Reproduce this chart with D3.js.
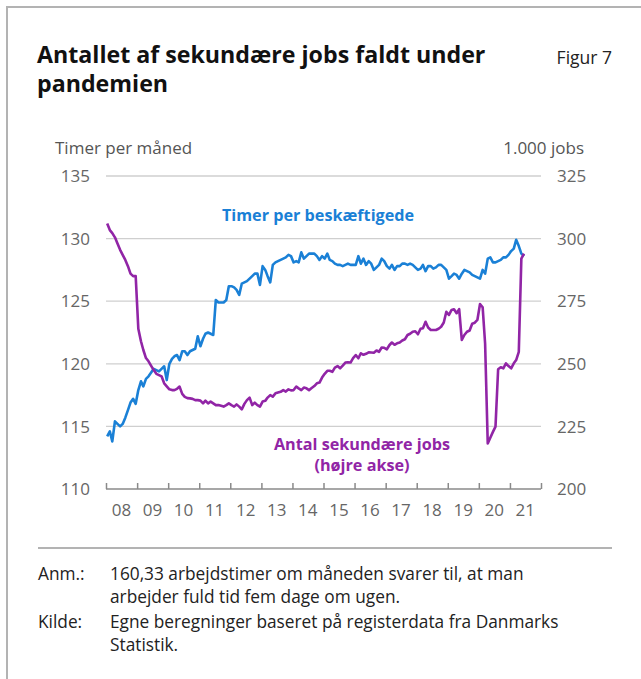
<!DOCTYPE html>
<html><head><meta charset="utf-8">
<script src="https://cdn.jsdelivr.net/npm/d3@7"></script>
<style>body{margin:0;background:#fff} svg{display:block}</style>
</head><body>
<svg id="c" width="641" height="679"></svg>
<script>
// ---- data ----
const startYear = 2008;           // first month: Jan 2008, monthly observations
const hours = [
114.2,114.6,113.8,115.4,115.2,115.0,115.2,115.7,116.3,116.9,
117.2,116.8,117.9,118.6,118.2,118.8,119.0,119.3,119.6,119.5,
119.4,119.6,119.8,118.7,120.0,120.4,120.6,120.7,120.3,121.0,
121.0,120.7,121.0,121.1,121.2,122.2,121.4,122.0,122.4,122.5,
122.4,122.3,125.1,124.9,124.9,124.9,125.1,126.2,126.2,126.1,
125.9,125.5,126.4,126.5,126.6,126.8,127.0,127.2,127.2,126.3,
127.8,127.5,127.0,126.5,127.9,128.1,128.2,128.3,128.4,128.5,
128.7,128.6,128.1,128.2,128.1,128.9,128.4,128.6,128.8,128.8,
128.8,128.6,128.3,128.6,128.4,128.8,128.3,128.2,128.0,127.9,
127.9,127.8,127.9,128.0,127.9,127.9,127.9,128.6,128.0,128.4,
127.9,128.2,128.0,127.5,127.7,127.9,128.4,128.2,127.8,127.6,
127.9,127.5,127.8,127.8,128.0,128.0,127.9,128.0,127.9,127.7,
127.5,127.6,127.9,127.4,127.8,127.8,127.6,127.7,127.9,127.9,
127.7,127.5,126.8,127.0,127.2,127.1,126.8,127.2,127.5,127.4,
127.3,127.1,127.0,126.9,126.8,127.5,127.2,128.4,128.5,128.1,
128.1,128.2,128.3,128.5,128.5,128.7,129.0,129.2,129.9,129.4,
128.8,128.6];
const jobs = [
306.0,303.4,302.2,300.5,298.0,295.5,293.5,291.5,289.0,286.0,
285.0,285.0,264.0,259.0,255.5,252.3,251.0,249.2,247.5,246.0,
245.5,245.0,242.2,241.0,239.8,239.5,239.5,240.0,240.9,238.0,
236.8,236.3,236.2,236.0,235.5,235.5,235.3,234.2,235.3,234.2,
234.9,234.2,233.5,233.5,233.2,232.9,233.5,234.2,233.5,232.9,
233.8,232.9,231.8,234.0,235.5,236.5,233.5,234.5,233.5,232.9,
234.9,235.2,236.5,237.5,236.9,238.2,238.5,238.8,239.5,238.9,
239.8,239.4,239.5,240.9,240.2,239.5,240.5,240.2,239.5,240.3,
241.1,242.2,242.5,244.5,246.0,247.2,247.2,246.8,248.5,249.1,
248.2,249.3,250.5,250.6,250.5,252.3,253.5,252.2,254.2,253.6,
254.0,254.6,254.5,254.4,255.3,254.8,256.5,256.4,255.8,257.5,
258.5,257.6,258.2,258.5,259.3,259.8,261.5,262.0,262.8,263.0,
261.8,264.0,264.2,266.8,264.5,263.5,263.5,263.5,264.0,264.8,
266.5,270.8,269.5,271.5,271.8,270.2,271.8,259.5,261.5,262.8,
263.3,266.0,266.4,267.5,273.9,272.6,258.0,218.2,220.5,222.8,
224.9,247.8,248.6,248.2,250.2,249.1,248.2,250.2,251.5,254.8,
292.0,294.0];
const leftTicks = [110,115,120,125,130,135];
const rightTicks = [200,225,250,275,300,325];
const yearTicks = d3.range(2008, 2023);
const yearLabels = d3.range(2008, 2022);

// ---- style ----
const FONT = "'Open Sans', sans-serif";
const BLUE = "#1a80d6", PURPLE = "#9125a6";
const svg = d3.select("#c");

// frame
svg.append("path").attr("d","M7,679V7H641").attr("fill","none")
  .attr("stroke","#b3b3b3").attr("stroke-width",2);

// title
const title = svg.append("text").attr("font-family",FONT).attr("font-weight",700)
  .attr("font-size",23.2).attr("fill","#111");
title.append("tspan").attr("x",37).attr("y",63).text("Antallet af sekundære jobs faldt under");
title.append("tspan").attr("x",37).attr("y",92).text("pandemien");
svg.append("text").attr("x",612).attr("y",64).attr("text-anchor","end")
  .attr("font-family",FONT).attr("font-size",17.5).attr("fill","#222").text("Figur 7");

// scales
const x = d3.scaleTime().domain([new Date(2008,0,1), new Date(2022,0,1)]).range([106,541]);
const yL = d3.scaleLinear().domain([110,135]).range([489,176]);
const yR = d3.scaleLinear().domain([200,325]).range([489,176]);
const dateOf = i => new Date(startYear, i, 15);

// gridlines
svg.append("g").selectAll("line").data(leftTicks.filter(d=>d>110)).join("line")
  .attr("x1",x.range()[0]).attr("x2",x.range()[1])
  .attr("y1",d=>yL(d)).attr("y2",d=>yL(d))
  .attr("stroke","#cfcfcf").attr("stroke-width",1.3);

// axes labels
const tickFont = 17;
svg.append("g").selectAll("text").data(leftTicks).join("text")
  .attr("x",90).attr("y",d=>yL(d)).attr("dy","0.36em").attr("text-anchor","end")
  .attr("font-family",FONT).attr("font-size",tickFont).attr("fill","#666").text(d=>d);
svg.append("g").selectAll("text").data(rightTicks).join("text")
  .attr("x",557).attr("y",d=>yR(d)).attr("dy","0.36em").attr("text-anchor","start")
  .attr("font-family",FONT).attr("font-size",tickFont).attr("fill","#666").text(d=>d);
svg.append("text").attr("x",55).attr("y",154).attr("font-family",FONT)
  .attr("font-size",tickFont).attr("fill","#555").text("Timer per måned");
svg.append("text").attr("x",584).attr("y",154).attr("text-anchor","end").attr("font-family",FONT)
  .attr("font-size",tickFont).attr("fill","#555").text("1.000 jobs");

// x axis
const xAxis = d3.axisTop(x).tickValues(yearTicks.map(y=>new Date(y,0,1)))
  .tickSize(6).tickFormat("");
const gx = svg.append("g").attr("transform",`translate(0,${yL(110)})`).call(xAxis);
gx.select(".domain").attr("stroke","#8a8a8a").attr("stroke-width",1.5).attr("d",`M${x.range()[0]},0H${x.range()[1]}`);
gx.selectAll(".tick line").attr("stroke","#8a8a8a").attr("stroke-width",1.5);
svg.append("g").selectAll("text").data(yearLabels).join("text")
  .attr("x",d=>x(new Date(d,6,1))).attr("y",yL(110)+27).attr("text-anchor","middle")
  .attr("font-family",FONT).attr("font-size",tickFont).attr("fill","#666")
  .text(d=>d3.timeFormat("%y")(new Date(d,0,1)));

// lines
const lineL = d3.line().x((d,i)=>x(dateOf(i))).y(d=>yL(d)).curve(d3.curveLinear);
const lineR = d3.line().x((d,i)=>x(dateOf(i))).y(d=>yR(d)).curve(d3.curveLinear);
svg.append("path").datum(hours).attr("d",lineL).attr("fill","none")
  .attr("stroke",BLUE).attr("stroke-width",2.6).attr("stroke-linejoin","round");
svg.append("path").datum(jobs).attr("d",lineR).attr("fill","none")
  .attr("stroke",PURPLE).attr("stroke-width",2.6).attr("stroke-linejoin","round");

// annotations
svg.append("text").attr("x",318).attr("y",221).attr("text-anchor","middle")
  .attr("font-family",FONT).attr("font-weight",700).attr("font-size",16.2)
  .attr("fill",BLUE).text("Timer per beskæftigede");
const ann = svg.append("text").attr("text-anchor","middle").attr("font-family",FONT)
  .attr("font-weight",700).attr("font-size",16.2).attr("fill",PURPLE);
ann.append("tspan").attr("x",362).attr("y",450).text("Antal sekundære jobs");
ann.append("tspan").attr("x",362).attr("y",471).text("(højre akse)");

// footer
svg.append("line").attr("x1",38).attr("x2",612).attr("y1",548).attr("y2",548)
  .attr("stroke","#9a9a9a").attr("stroke-width",1.5);
const notes = [
  ["Anm.:","160,33 arbejdstimer om måneden svarer til, at man",580],
  ["","arbejder fuld tid fem dage om ugen.",603],
  ["Kilde:","Egne beregninger baseret på registerdata fra Danmarks",628],
  ["","Statistik.",651]];
const fg = svg.append("g").attr("font-family",FONT).attr("font-size",17.3).attr("fill","#222");
notes.forEach(([a,b,yy])=>{
  if(a) fg.append("text").attr("x",38).attr("y",yy).text(a);
  fg.append("text").attr("x",110).attr("y",yy).text(b);
});
</script>
</body></html>
